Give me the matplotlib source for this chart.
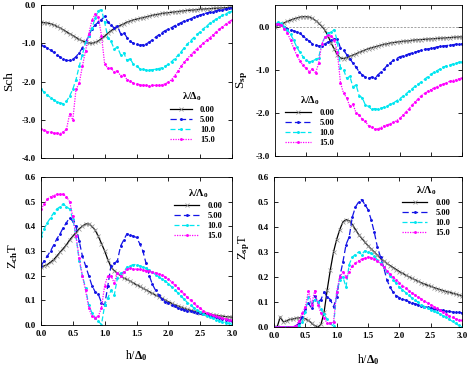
import matplotlib
matplotlib.use('Agg')
import matplotlib.pyplot as plt
import numpy as np

plt.rcParams['font.family'] = 'Liberation Serif'
plt.rcParams['font.weight'] = 'bold'
plt.rcParams['mathtext.fontset'] = 'custom'
plt.rcParams['mathtext.rm'] = 'Liberation Serif:bold'
plt.rcParams['mathtext.it'] = 'Liberation Serif:bold'
plt.rcParams['mathtext.bf'] = 'Liberation Serif:bold'
plt.rcParams['axes.unicode_minus'] = False

# field h/Delta0, sampled every 0.05
h = np.round(np.arange(0, 61) * 0.05, 2)
labels = ['0.00', '5.00', '10.0', '15.0']

# --- S_ch (top left)
sch_0 = [-0.45, -0.46, -0.47, -0.49, -0.52, -0.56, -0.60, -0.65, -0.70, -0.75, -0.80, -0.85, -0.90, -0.94, -0.97, -0.99,
         -1.00, -0.98, -0.94, -0.88, -0.81, -0.74, -0.67, -0.62, -0.57, -0.53, -0.49, -0.45, -0.42, -0.39, -0.37, -0.35,
         -0.33, -0.31, -0.29, -0.27, -0.25, -0.24, -0.22, -0.21, -0.20, -0.19, -0.18, -0.17, -0.16, -0.15, -0.14, -0.135,
         -0.13, -0.12, -0.11, -0.105, -0.10, -0.095, -0.09, -0.085, -0.08, -0.075, -0.07, -0.065, -0.06]
sch_5 = [-1.05, -1.08, -1.12, -1.18, -1.24, -1.30, -1.36, -1.41, -1.45, -1.45, -1.42, -1.35, -1.25, -1.12, -0.98, -0.80,
         -0.62, -0.52, -0.45, -0.38, -0.30, -0.45, -0.52, -0.60, -0.55, -0.75, -0.72, -0.85, -0.95, -1.00, -1.03, -1.05,
         -1.04, -1.02, -0.97, -0.91, -0.84, -0.78, -0.72, -0.67, -0.63, -0.59, -0.54, -0.50, -0.46, -0.42, -0.39, -0.36,
         -0.32, -0.29, -0.26, -0.23, -0.21, -0.19, -0.17, -0.15, -0.13, -0.12, -0.10, -0.09, -0.08]
sch_10 = [-2.20, -2.28, -2.35, -2.42, -2.48, -2.53, -2.56, -2.58, -2.52, -2.38, -2.20, -1.95, -1.60, -1.30, -0.98, -0.80,
          -0.60, -0.35, -0.15, -0.12, -0.45, -0.85, -0.95, -1.15, -1.10, -1.30, -1.25, -1.45, -1.40, -1.55, -1.60, -1.66,
          -1.68, -1.70, -1.70, -1.69, -1.68, -1.66, -1.64, -1.60, -1.55, -1.48, -1.40, -1.32, -1.22, -1.12, -1.02, -0.93,
          -0.85, -0.77, -0.70, -0.62, -0.55, -0.48, -0.42, -0.37, -0.32, -0.27, -0.23, -0.19, -0.16]
sch_15 = [-3.25, -3.28, -3.31, -3.33, -3.35, -3.35, -3.36, -3.32, -3.25, -2.85, -3.00, -2.20, -2.05, -1.60, -1.20, -0.75,
          -0.40, -0.24, -0.32, -0.80, -1.55, -1.65, -1.65, -1.75, -1.72, -1.85, -1.82, -1.95, -1.98, -2.05, -2.07, -2.08,
          -2.10, -2.10, -2.11, -2.10, -2.10, -2.10, -2.09, -2.06, -2.02, -1.95, -1.85, -1.73, -1.60, -1.50, -1.40, -1.30,
          -1.22, -1.14, -1.07, -1.00, -0.92, -0.85, -0.78, -0.71, -0.63, -0.57, -0.50, -0.44, -0.38]

# --- S_sp (top right)
ssp_0 = [0.00, 0.03, 0.06, 0.09, 0.12, 0.15, 0.18, 0.20, 0.22, 0.23, 0.23, 0.22, 0.19, 0.14, 0.08, 0.01,
         -0.08, -0.22, -0.38, -0.52, -0.65, -0.73, -0.74, -0.72, -0.69, -0.66, -0.63, -0.60, -0.57, -0.54, -0.51, -0.49,
         -0.47, -0.45, -0.43, -0.41, -0.40, -0.38, -0.37, -0.36, -0.35, -0.34, -0.335, -0.33, -0.32, -0.31, -0.305, -0.30,
         -0.295, -0.29, -0.285, -0.28, -0.275, -0.27, -0.265, -0.26, -0.255, -0.25, -0.245, -0.24, -0.235]
ssp_5 = [0.05, 0.07, 0.04, 0.00, -0.05, -0.07, -0.10, -0.13, -0.16, -0.22, -0.28, -0.34, -0.40, -0.43, -0.45, -0.44,
         -0.40, -0.36, -0.32, -0.29, -0.28, -0.50, -0.55, -0.65, -0.74, -0.85, -0.94, -1.05, -1.12, -1.17, -1.20, -1.17,
         -1.20, -1.12, -1.05, -0.98, -0.90, -0.84, -0.78, -0.74, -0.70, -0.68, -0.66, -0.63, -0.61, -0.59, -0.57, -0.55,
         -0.53, -0.52, -0.50, -0.49, -0.47, -0.46, -0.45, -0.44, -0.43, -0.42, -0.41, -0.40, -0.40]
ssp_10 = [0.05, 0.10, 0.08, 0.00, -0.08, -0.18, -0.32, -0.48, -0.60, -0.70, -0.78, -0.82, -0.80, -0.76, -0.72, -0.40,
          -0.25, -0.15, -0.13, -0.07, -0.35, -0.95, -1.00, -1.20, -1.15, -1.40, -1.35, -1.60, -1.65, -1.82, -1.85, -1.92,
          -1.90, -1.92, -1.89, -1.87, -1.84, -1.80, -1.77, -1.72, -1.67, -1.62, -1.56, -1.50, -1.44, -1.38, -1.33, -1.28,
          -1.22, -1.16, -1.11, -1.06, -1.02, -0.98, -0.94, -0.91, -0.89, -0.87, -0.85, -0.83, -0.81]
ssp_15 = [0.05, 0.07, 0.03, -0.05, -0.15, -0.32, -0.50, -0.67, -0.80, -0.90, -0.97, -1.05, -0.98, -1.08, -0.85, -0.40,
          -0.25, -0.20, -0.22, -0.30, -0.60, -1.30, -1.55, -1.65, -1.85, -1.80, -2.00, -2.05, -2.15, -2.20, -2.30, -2.32,
          -2.38, -2.37, -2.34, -2.30, -2.28, -2.25, -2.22, -2.18, -2.13, -2.06, -1.98, -1.90, -1.82, -1.74, -1.67, -1.60,
          -1.55, -1.50, -1.46, -1.42, -1.39, -1.36, -1.33, -1.30, -1.27, -1.25, -1.23, -1.21, -1.19]

# --- Z_ch T (bottom left)
zch_0 = [0.235, 0.24, 0.245, 0.255, 0.265, 0.28, 0.295, 0.31, 0.325, 0.345, 0.36, 0.375, 0.39, 0.40, 0.41, 0.41,
         0.40, 0.385, 0.36, 0.33, 0.30, 0.265, 0.235, 0.22, 0.21, 0.20, 0.19, 0.185, 0.178, 0.17, 0.163, 0.157,
         0.149, 0.142, 0.135, 0.128, 0.121, 0.115, 0.108, 0.101, 0.094, 0.088, 0.082, 0.077, 0.072, 0.067, 0.063, 0.059,
         0.056, 0.053, 0.05, 0.047, 0.045, 0.043, 0.041, 0.039, 0.037, 0.036, 0.034, 0.033, 0.032]
zch_5 = [0.24, 0.26, 0.28, 0.30, 0.325, 0.35, 0.37, 0.395, 0.415, 0.435, 0.42, 0.40, 0.34, 0.28, 0.24, 0.20,
         0.16, 0.135, 0.125, 0.09, 0.08, 0.16, 0.24, 0.25, 0.26, 0.32, 0.345, 0.37, 0.365, 0.36, 0.355, 0.33,
         0.30, 0.25, 0.20, 0.165, 0.14, 0.12, 0.105, 0.095, 0.088, 0.082, 0.076, 0.07, 0.066, 0.062, 0.058, 0.055,
         0.052, 0.05, 0.047, 0.044, 0.04, 0.037, 0.034, 0.031, 0.028, 0.025, 0.022, 0.019, 0.016]
zch_10 = [0.36, 0.39, 0.415, 0.435, 0.455, 0.47, 0.48, 0.49, 0.48, 0.47, 0.43, 0.36, 0.26, 0.20, 0.15, 0.08,
          0.05, 0.03, 0.015, 0.002, 0.08, 0.11, 0.14, 0.12, 0.19, 0.21, 0.215, 0.235, 0.24, 0.245, 0.245, 0.24,
          0.235, 0.23, 0.222, 0.213, 0.204, 0.195, 0.186, 0.178, 0.168, 0.155, 0.143, 0.13, 0.117, 0.104, 0.091, 0.08,
          0.07, 0.06, 0.052, 0.045, 0.038, 0.032, 0.027, 0.022, 0.018, 0.014, 0.01, 0.007, 0.005]
zch_15 = [0.47, 0.49, 0.51, 0.52, 0.525, 0.53, 0.53, 0.53, 0.52, 0.50, 0.44, 0.36, 0.27, 0.20, 0.14, 0.07,
          0.035, 0.03, 0.035, 0.07, 0.16, 0.20, 0.20, 0.17, 0.21, 0.20, 0.215, 0.225, 0.23, 0.228, 0.226, 0.225,
          0.223, 0.22, 0.218, 0.215, 0.212, 0.208, 0.203, 0.195, 0.186, 0.175, 0.162, 0.15, 0.137, 0.125, 0.112, 0.10,
          0.088, 0.077, 0.067, 0.058, 0.05, 0.044, 0.039, 0.035, 0.032, 0.028, 0.025, 0.022, 0.02]

# --- Z_sp T (bottom right)
zsp_0 = [0.0, 0.0, 0.04, 0.02, 0.025, 0.03, 0.032, 0.035, 0.037, 0.036, 0.033, 0.026, 0.016, 0.005, 0.0, 0.01,
         0.06, 0.15, 0.23, 0.30, 0.35, 0.39, 0.42, 0.43, 0.425, 0.41, 0.39, 0.37, 0.355, 0.34, 0.325, 0.312,
         0.30, 0.287, 0.275, 0.265, 0.255, 0.246, 0.238, 0.23, 0.222, 0.215, 0.208, 0.201, 0.195, 0.189, 0.183, 0.177,
         0.172, 0.167, 0.163, 0.158, 0.154, 0.15, 0.146, 0.142, 0.139, 0.135, 0.132, 0.128, 0.125]
zsp_5 = [0, 0, 0, 0, 0, 0, 0, 0.005, 0.015, 0.04, 0.07, 0.095, 0.075, 0.125, 0.10, 0.11,
         0.14, 0.12, 0.11, 0.08, 0.12, 0.20, 0.26, 0.33, 0.36, 0.44, 0.48, 0.50, 0.51, 0.49, 0.47, 0.43,
         0.38, 0.32, 0.28, 0.24, 0.19, 0.16, 0.14, 0.125, 0.118, 0.112, 0.107, 0.102, 0.097, 0.093, 0.089, 0.085,
         0.082, 0.079, 0.076, 0.073, 0.07, 0.068, 0.066, 0.064, 0.062, 0.06, 0.059, 0.058, 0.057]
zsp_10 = [0, 0, 0, 0, 0, 0, 0, 0, 0.005, 0.02, 0.06, 0.12, 0.09, 0.11, 0.10, 0.07,
          0.05, 0.03, 0.015, 0.002, 0.14, 0.19, 0.20, 0.16, 0.25, 0.28, 0.29, 0.30, 0.29, 0.305, 0.30, 0.295,
          0.285, 0.268, 0.255, 0.24, 0.222, 0.206, 0.19, 0.175, 0.16, 0.149, 0.138, 0.127, 0.117, 0.108, 0.099, 0.09,
          0.082, 0.075, 0.069, 0.063, 0.058, 0.052, 0.045, 0.038, 0.03, 0.022, 0.014, 0.006, 0.0]
zsp_15 = [0, 0, 0, 0, 0, 0, 0, 0.005, 0.025, 0.055, 0.08, 0.145, 0.09, 0.145, 0.09, 0.055,
          0.035, 0.015, 0.015, 0.02, 0.14, 0.20, 0.22, 0.20, 0.22, 0.245, 0.255, 0.265, 0.272, 0.276, 0.28, 0.278,
          0.274, 0.265, 0.253, 0.24, 0.226, 0.212, 0.20, 0.188, 0.177, 0.166, 0.155, 0.146, 0.137, 0.128, 0.12, 0.112,
          0.104, 0.097, 0.09, 0.082, 0.074, 0.066, 0.058, 0.051, 0.044, 0.038, 0.033, 0.029, 0.026]

styles = [
    dict(color='black', ls='-', lw=0.9, marker='x', ms=3, mew=0.5, mec='0.55'),
    dict(color='#1414e6', ls=(0, (5, 2.5)), lw=0.9, marker='.', ms=2.2),
    dict(color='#00e6f0', ls=(0, (4, 2)), lw=0.9, marker='.', ms=2.2),
    dict(color='#ff00ff', ls=(0, (1, 1)), lw=0.9, marker='.', ms=2.2),
]

fig = plt.figure(figsize=(4.69, 3.71), dpi=100)
ax_tl = fig.add_axes([0.0874, 0.5741, 0.4073, 0.4124])
ax_tr = fig.add_axes([0.5864, 0.5795, 0.3987, 0.4070])
ax_bl = fig.add_axes([0.0874, 0.1240, 0.4073, 0.3989])
ax_br = fig.add_axes([0.5842, 0.1186, 0.4008, 0.4043])

panels = [
    (ax_tl, [sch_0, sch_5, sch_10, sch_15], (-4, 0), np.arange(-4, 0.1, 1.0)),
    (ax_tr, [ssp_0, ssp_5, ssp_10, ssp_15], (-3, 0.5), np.arange(-3, 0.1, 1.0)),
    (ax_bl, [zch_0, zch_5, zch_10, zch_15], (0, 0.6), np.arange(0, 0.61, 0.1)),
    (ax_br, [zsp_0, zsp_5, zsp_10, zsp_15], (0, 0.6), np.arange(0, 0.61, 0.1)),
]

for ax, series, ylim, yticks in panels:
    for y, lab, st in zip(series, labels, styles):
        ax.plot(h, y, label=lab, **st)
    ax.set_xlim(0, 3)
    ax.set_ylim(*ylim)
    ax.set_xticks(np.arange(0, 3.01, 0.5))
    ax.set_yticks(yticks)
    ax.set_yticklabels(['%.1f' % t for t in yticks])
    ax.tick_params(direction='in', top=True, right=True, labelsize=6.5, length=3, width=0.6)
    for sp in ax.spines.values():
        sp.set_linewidth(0.6)

ax_tr.axhline(0, color='0.5', lw=0.5, ls=(0, (3, 2)), zorder=0)

for ax in (ax_tl, ax_tr):
    ax.set_xticklabels([])
for ax in (ax_bl, ax_br):
    ax.set_xticklabels(['%.1f' % t for t in np.arange(0, 3.01, 0.5)])
    ax.set_xlabel(r'h/$\Delta_0$', fontsize=8.5)

ax_tl.set_ylabel('Sch', fontsize=9.5)
ax_tr.set_ylabel(r'S$_{\rm sp}$', fontsize=9.5)
ax_bl.set_ylabel(r'Z$_{\rm ch}$T', fontsize=9)
ax_br.set_ylabel(r'Z$_{\rm sp}$T', fontsize=9)
ax_tl.yaxis.set_label_coords(-0.135, 0.5)
ax_tr.yaxis.set_label_coords(-0.134, 0.5)
ax_bl.yaxis.set_label_coords(-0.11, 0.47)
ax_br.yaxis.set_label_coords(-0.117, 0.53)
ax_bl.xaxis.set_label_coords(0.5, -0.16)
ax_br.xaxis.set_label_coords(0.5, -0.165)

leg_kw = dict(frameon=False, fontsize=6, title_fontsize=7.5, labelspacing=0.25,
              handletextpad=1.0, borderpad=0.2, alignment='center')
ax_tl.legend(title=r'$\lambda/\Delta_0$', loc='lower right', bbox_to_anchor=(0.94, 0.055),
             handlelength=2.6, **leg_kw)
ax_tr.legend(title=r'$\lambda/\Delta_0$', loc='lower left', bbox_to_anchor=(0.02, 0.02),
             handlelength=3.2, **leg_kw)
ax_bl.legend(title=r'$\lambda/\Lambda_0$', loc='upper right', bbox_to_anchor=(0.98, 0.97),
             handlelength=3.0, **leg_kw)
ax_br.legend(title=r'$\lambda/\Lambda_0$', loc='upper right', bbox_to_anchor=(0.97, 0.99),
             handlelength=3.0, **leg_kw)

fig.savefig('out.png', dpi=100)
